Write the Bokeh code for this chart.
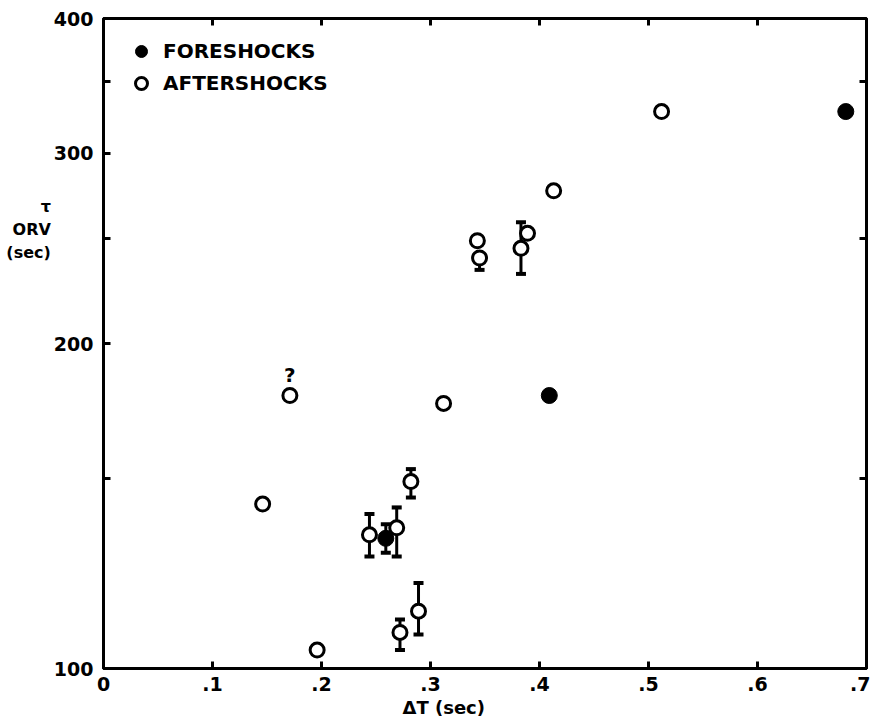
from bokeh.plotting import figure
from bokeh.models import (Range1d, FixedTicker, LinearAxis, LogAxis, Whisker, TeeHead,
                          ColumnDataSource, Legend, LegendItem, Title)
from bokeh.core.properties import value
from bokeh.embed import file_html
from bokeh.resources import INLINE

# ---- data ----
fore_x = [0.409, 0.681, 0.259]
fore_y = [179, 328, 132]

after_x = [0.146, 0.171, 0.196, 0.244, 0.269, 0.282, 0.272, 0.289, 0.312,
           0.343, 0.345, 0.383, 0.389, 0.413, 0.512]
after_y = [142, 179, 104, 133, 135, 149, 108, 113, 176,
           249, 240, 245, 253, 277, 328]

err_x = [0.244, 0.259, 0.269, 0.282, 0.272, 0.289, 0.345, 0.383]
err_lo = [127, 128, 127, 144, 104, 107.5, 234, 232]
err_hi = [139, 136, 141, 153, 111, 120, 240, 259]

query_x = [0.171]
query_y = [179]
query_text = ["?"]

x_ticks = [0, 0.1, 0.2, 0.3, 0.4, 0.5, 0.6, 0.7]
x_labels = ["0", ".1", ".2", ".3", ".4", ".5", ".6", ".7"]
y_major = [100, 200, 300, 400]
y_labels = ["100", "200", "300", "400"]
y_minor = [150, 250, 350]

FONT = "DejaVu Sans"

p = figure(width=870, height=721, output_backend="svg", toolbar_location=None,
           x_range=Range1d(0, 0.7), y_range=Range1d(100, 400), y_axis_type="log",
           min_border_left=103, min_border_right=4, min_border_top=18, min_border_bottom=53,
           background_fill_color="white", border_fill_color="white")
p.xgrid.visible = False
p.ygrid.visible = False
p.outline_line_color = "black"
p.outline_line_width = 3


def style_axis(ax):
    ax.axis_line_width = 3
    ax.axis_line_color = "black"
    ax.major_tick_in = 7
    ax.major_tick_out = 0
    ax.major_tick_line_width = 3
    ax.major_tick_line_color = "black"
    ax.minor_tick_in = 7
    ax.minor_tick_out = 0
    ax.minor_tick_line_width = 3
    ax.minor_tick_line_color = "black"
    ax.major_label_text_font = FONT
    ax.major_label_text_font_style = "bold"
    ax.major_label_text_font_size = "19px"
    ax.major_label_text_color = "black"
    ax.major_label_standoff = 9


xax = p.xaxis[0]
xax.ticker = FixedTicker(ticks=x_ticks)
xax.major_label_overrides = {t: l for t, l in zip(x_ticks, x_labels)}
style_axis(xax)
xax.major_label_standoff = 8

yax = p.yaxis[0]
yax.ticker = FixedTicker(ticks=y_major, minor_ticks=y_minor)
yax.major_label_overrides = {t: l for t, l in zip(y_major, y_labels)}
style_axis(yax)
yax.major_label_standoff = 10
yax.axis_label = "τ\nORV\n(sec)" + "\n" * 10
yax.axis_label_orientation = "horizontal"
yax.axis_label_text_align = "center"
yax.axis_label_standoff = 0
yax.axis_label_text_font = FONT
yax.axis_label_text_font_style = "bold"
yax.axis_label_text_font_size = "16px"
yax.axis_label_text_color = "black"

top = LinearAxis(ticker=FixedTicker(ticks=[], minor_ticks=x_ticks[1:-1]))
style_axis(top)
p.add_layout(top, "above")
right = LogAxis(ticker=FixedTicker(ticks=[], minor_ticks=y_minor))
style_axis(right)
p.add_layout(right, "right")

# error bars
esrc = ColumnDataSource(dict(x=err_x, lo=err_lo, hi=err_hi))
p.add_layout(Whisker(source=esrc, base="x", lower="lo", upper="hi", dimension="height",
                     line_width=3, line_color="black",
                     lower_head=TeeHead(size=10, line_width=4, line_color="black"),
                     upper_head=TeeHead(size=10, line_width=4, line_color="black")))

r_after = p.scatter(after_x, after_y, marker="circle", size=14, line_width=3,
                    line_color="black", fill_color="white")
r_fore = p.scatter(fore_x, fore_y, marker="circle", size=16, line_width=1,
                   line_color="black", fill_color="black")

p.text(query_x, query_y, text=query_text, y_offset=-21, text_align="center",
       text_baseline="middle", text_font=value(FONT), text_font_style="bold",
       text_font_size="20px", text_color="black")

legend = Legend(items=[LegendItem(label="FORESHOCKS", renderers=[r_fore]),
                       LegendItem(label="AFTERSHOCKS", renderers=[r_after])],
                location="top_left", margin=18, padding=18, glyph_width=40, glyph_height=30,
                label_height=30, label_standoff=2, spacing=2,
                border_line_color=None, background_fill_alpha=0,
                label_text_font=FONT, label_text_font_style="bold",
                label_text_font_size="20px", label_text_color="black")
p.add_layout(legend, "center")

# x axis title
p.add_layout(Title(text="ΔT (sec)", align="left", offset=299, standoff=2,
                   text_font=FONT, text_font_style="bold", text_font_size="18px",
                   text_color="black"), "below")

open("out.html", "w").write(file_html(p, INLINE))
